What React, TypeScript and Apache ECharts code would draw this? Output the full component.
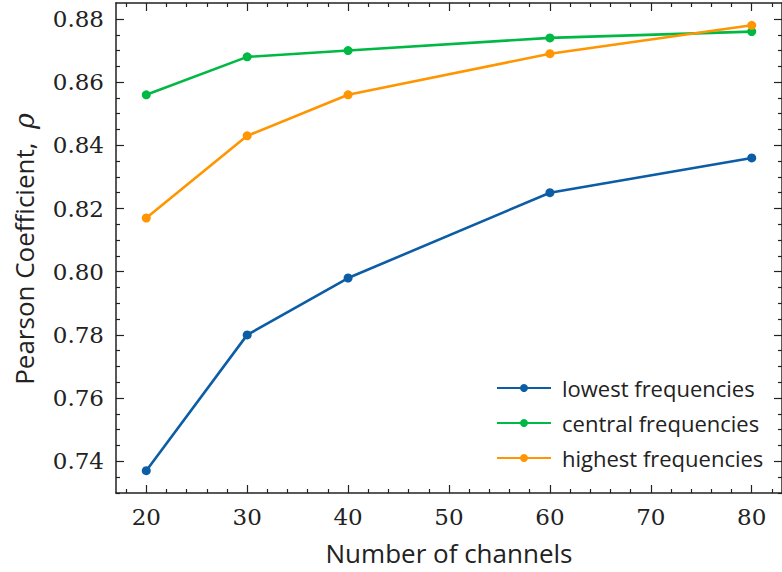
import React, { useEffect, useRef } from "react";
import * as echarts from "echarts";

const channels = [20, 30, 40, 60, 80];
const lowest = [0.737, 0.78, 0.798, 0.825, 0.836];
const central = [0.856, 0.868, 0.87, 0.874, 0.876];
const highest = [0.817, 0.843, 0.856, 0.869, 0.878];
const seriesNames = ["lowest frequencies", "central frequencies", "highest frequencies"];
const xMajor = [20, 30, 40, 50, 60, 70, 80];
const xMinor = [18, 22, 24, 26, 28, 32, 34, 36, 38, 42, 44, 46, 48, 52, 54, 56, 58, 62, 64, 66, 68, 72, 74, 76, 78, 82];
const yMajor = [0.74, 0.76, 0.78, 0.8, 0.82, 0.84, 0.86, 0.88];
const yMinor = [0.73, 0.735, 0.745, 0.75, 0.755, 0.765, 0.77, 0.775, 0.785, 0.79, 0.795, 0.805, 0.81, 0.815, 0.825, 0.83, 0.835, 0.845, 0.85, 0.855, 0.865, 0.87, 0.875];

const X_MIN = 17;
const X_MAX = 83;
const Y_MIN = 0.72995;
const Y_MAX = 0.88505;
const colors = ["#0C5DA5", "#00B945", "#FF9500"];

export default function App() {
  const ref = useRef<HTMLDivElement>(null);
  useEffect(() => {
    if (!ref.current) return;
    const chart = echarts.init(ref.current, null, { renderer: "svg" });
    const tickFont = { fontFamily: "DejaVu Serif", fontSize: 23, color: "#222" };
    const mkX = (pos: string, vals: number[], len: number, labels: boolean, line: boolean) => ({
      type: "value",
      position: pos,
      min: X_MIN,
      max: X_MAX,
      splitLine: { show: false },
      axisLine: { show: line, onZero: false, lineStyle: { color: "#222", width: 1.5 } },
      axisTick: { show: true, inside: true, length: len, customValues: vals, lineStyle: { color: "#222", width: 1.2 } },
      axisLabel: labels
        ? { show: true, customValues: vals, margin: 12, ...tickFont }
        : { show: false },
    });
    const mkY = (pos: string, vals: number[], len: number, labels: boolean, line: boolean) => ({
      type: "value",
      position: pos,
      min: Y_MIN,
      max: Y_MAX,
      splitLine: { show: false },
      axisLine: { show: line, onZero: false, lineStyle: { color: "#222", width: 1.5 } },
      axisTick: { show: true, inside: true, length: len, customValues: vals, lineStyle: { color: "#222", width: 1.2 } },
      axisLabel: labels
        ? { show: true, customValues: vals, margin: 12, formatter: (v: number) => v.toFixed(2), ...tickFont }
        : { show: false },
    });
    const data = [lowest, central, highest];
    chart.setOption({
      animation: false,
      backgroundColor: "#fff",
      grid: { left: 116, top: 3, right: -5, bottom: 79, containLabel: false },
      xAxis: [
        mkX("bottom", xMajor, 8, true, true),
        mkX("bottom", xMinor, 4, false, false),
        mkX("top", xMajor, 8, false, true),
        mkX("top", xMinor, 4, false, false),
      ],
      yAxis: [
        mkY("left", yMajor, 8, true, true),
        mkY("left", yMinor, 4, false, false),
        mkY("right", yMajor, 8, false, true),
        mkY("right", yMinor, 4, false, false),
      ],
      legend: {
        orient: "vertical",
        left: 491,
        top: 372,
        itemWidth: 54,
        itemHeight: 10,
        itemGap: 13,
        textStyle: { fontFamily: "Open Sans", fontSize: 22, color: "#222", padding: [0, 0, 0, 6] },
        data: seriesNames,
      },
      series: data.map((vals, i) => ({
        name: seriesNames[i],
        type: "line",
        xAxisIndex: 0,
        yAxisIndex: 0,
        data: channels.map((c, j) => [c, vals[j]]),
        symbol: "circle",
        symbolSize: 9,
        color: colors[i],
        lineStyle: { width: 2.6, color: colors[i] },
        itemStyle: { color: colors[i] },
        z: 2 + i,
      })),
      graphic: [
        {
          type: "text",
          x: 449,
          y: 553,
          style: {
            text: "Number of channels",
            fontFamily: "Open Sans",
            fontSize: 26,
            fill: "#222",
            align: "center",
            verticalAlign: "middle",
          },
        },
        {
          type: "text",
          x: 24,
          y: 249,
          rotation: Math.PI / 2,
          style: {
            text: "Pearson Coefficient,  {rho|ρ}",
            fontFamily: "Open Sans",
            fontSize: 26,
            fill: "#222",
            align: "center",
            verticalAlign: "middle",
            rich: {
              rho: { fontFamily: "DejaVu Serif", fontStyle: "italic", fontSize: 27, fill: "#222" },
            },
          },
        },
      ],
    });
    return () => chart.dispose();
  }, []);
  return (
    <div
      ref={ref}
      style={{ position: "fixed", left: 0, top: 0, width: 782, height: 572 }}
    />
  );
}
